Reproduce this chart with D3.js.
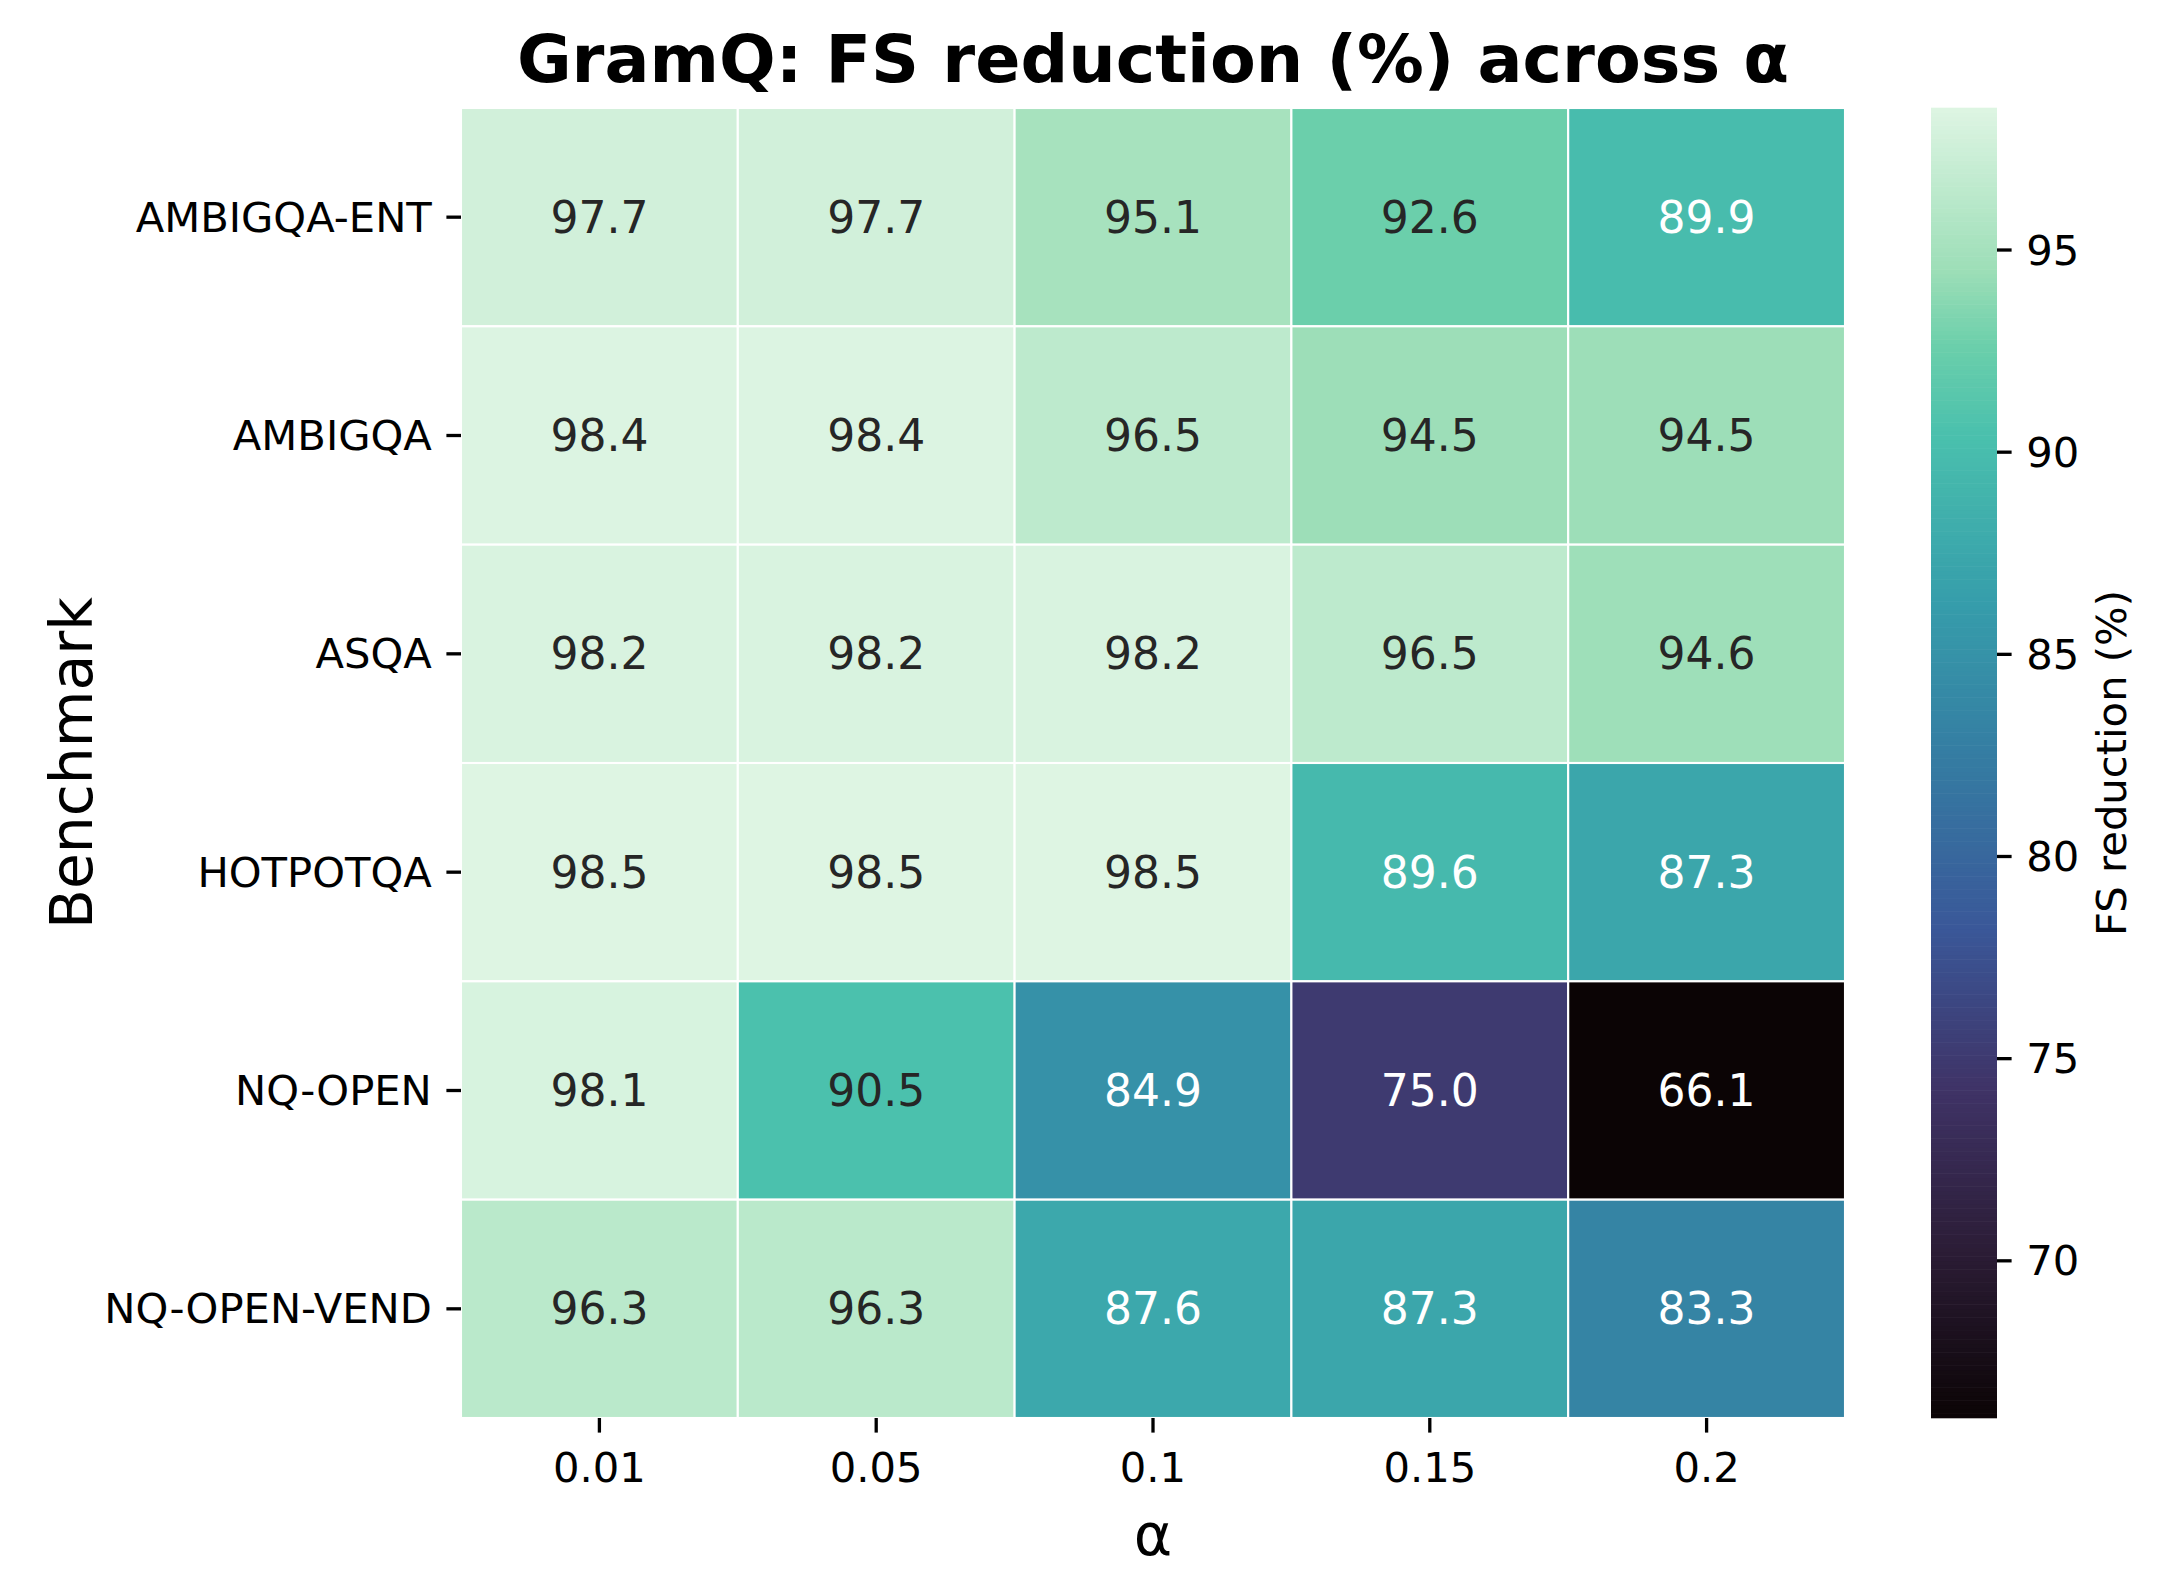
<!DOCTYPE html>
<html>
<head>
<meta charset="utf-8">
<script src="https://cdn.jsdelivr.net/npm/d3@7"></script>
<style>
  body { margin: 0; background: #fff; }
  text { font-family: "DejaVu Sans", sans-serif; }
</style>
</head>
<body>
<div id="graph"></div>
<script>
// data
let alphas = ["0.01", "0.05", "0.1", "0.15", "0.2"];
let benchmarks = ["AMBIGQA-ENT", "AMBIGQA", "ASQA", "HOTPOTQA", "NQ-OPEN", "NQ-OPEN-VEND"];

let ambigqaEnt = [97.7, 97.7, 95.1, 92.6, 89.9];
let ambigqa    = [98.4, 98.4, 96.5, 94.5, 94.5];
let asqa       = [98.2, 98.2, 98.2, 96.5, 94.6];
let hotpotqa   = [98.5, 98.5, 98.5, 89.6, 87.3];
let nqOpen     = [98.1, 90.5, 84.9, 75.0, 66.1];
let nqOpenVend = [96.3, 96.3, 87.6, 87.3, 83.3];

let colorbarTicks = [70, 75, 80, 85, 90, 95];

let rows = [ambigqaEnt, ambigqa, asqa, hotpotqa, nqOpen, nqOpenVend];

// cells as a flat list
let cells = [];
rows.forEach(function(vals, i) {
  vals.forEach(function(v, j) {
    cells.push({ bench: benchmarks[i], alpha: alphas[j], value: v });
  });
});

let vmin = d3.min(cells, d => d.value);
let vmax = d3.max(cells, d => d.value);

// approx seaborn "mako"
let makoColors = ["#0b0405", "#2b1c35", "#3f3366", "#3a5899", "#357ba2",
                  "#369eab", "#4ac0ad", "#6bcfab", "#9cdeb7", "#def5e3"];
let makoPos = [0, 0.125, 0.25, 0.375, 0.5, 0.625, 0.75, 0.818, 0.875, 1];

let couleur = d3.scaleLinear()
    .domain(makoPos.map(t => vmin + t * (vmax - vmin)))
    .range(makoColors)
    .interpolate(d3.interpolateRgb)
    .clamp(true);

// figure size and heatmap box
let largeur = 2168, hauteur = 1594;
let box = { gauche: 461, droite: 1845, haut: 108, bas: 1418 };
let cb = { gauche: 1931, droite: 1997 };

let svg = d3.select("#graph").append("svg")
    .attr("width", largeur)
    .attr("height", hauteur)
    .style("background", "#fff");

let echelleX = d3.scaleBand()
    .domain(alphas)
    .range([box.gauche, box.droite]);

let echelleY = d3.scaleBand()
    .domain(benchmarks)
    .range([box.haut, box.bas]);

// relative luminance, like seaborn picks the annotation colour
function luminance(c) {
  let rgb = d3.rgb(c);
  let lin = [rgb.r, rgb.g, rgb.b].map(function(x) {
    x = x / 255;
    return x <= 0.03928 ? x / 12.92 : Math.pow((x + 0.055) / 1.055, 2.4);
  });
  return 0.2126 * lin[0] + 0.7152 * lin[1] + 0.0722 * lin[2];
}

// cells
svg.selectAll(".cell")
  .data(cells)
  .enter()
  .append("rect")
  .attr("class", "cell")
  .attr("x", d => echelleX(d.alpha))
  .attr("y", d => echelleY(d.bench))
  .attr("width", echelleX.bandwidth())
  .attr("height", echelleY.bandwidth())
  .style("fill", d => couleur(d.value))
  .style("stroke", "#fff")
  .style("stroke-width", 2.1);

// annotations
svg.selectAll(".annot")
  .data(cells)
  .enter()
  .append("text")
  .attr("class", "annot")
  .attr("x", d => echelleX(d.alpha) + echelleX.bandwidth() / 2)
  .attr("y", d => echelleY(d.bench) + echelleY.bandwidth() / 2)
  .attr("text-anchor", "middle")
  .attr("dominant-baseline", "central")
  .style("font-size", "44px")
  .style("fill", d => luminance(couleur(d.value)) > 0.408 ? "#262626" : "#ffffff")
  .text(d => d.value.toFixed(1));

// axes
let axeX = d3.axisBottom(echelleX).tickSize(14.6).tickPadding(14.6);
let axeY = d3.axisLeft(echelleY).tickSize(14.6).tickPadding(14.6);

let gx = svg.append("g")
    .attr("transform", "translate(0," + box.bas + ")")
    .call(axeX);
let gy = svg.append("g")
    .attr("transform", "translate(" + box.gauche + ",0)")
    .call(axeY);

[gx, gy].forEach(function(g) {
  g.select(".domain").remove();
  g.selectAll(".tick line").attr("stroke", "#000").attr("stroke-width", 3.3);
  g.selectAll(".tick text")
    .attr("fill", "#000")
    .style("font-size", "41.7px")
    .style("font-family", "'DejaVu Sans', sans-serif");
});
gx.selectAll(".tick text").attr("dy", null).attr("y", 64).attr("dominant-baseline", "alphabetic");
gy.selectAll(".tick text").attr("dy", null).attr("dominant-baseline", "central");

// axis labels and title
svg.append("text")
    .attr("x", (box.gauche + box.droite) / 2)
    .attr("y", 1555)
    .attr("text-anchor", "middle")
    .style("font-size", "58.3px")
    .text("α");

svg.append("text")
    .attr("transform", "translate(92," + (box.haut + box.bas) / 2 + ") rotate(-90)")
    .attr("text-anchor", "middle")
    .style("font-size", "58.3px")
    .text("Benchmark");

svg.append("text")
    .attr("x", (box.gauche + box.droite) / 2)
    .attr("y", 82)
    .attr("text-anchor", "middle")
    .style("font-size", "66.7px")
    .style("font-weight", "bold")
    .text("GramQ: FS reduction (%) across α");

// colorbar
let echelleCb = d3.scaleLinear()
    .domain([vmin, vmax])
    .range([box.bas, box.haut]);

let nSlices = 300;
let slices = d3.range(nSlices).map(i => vmin + (i + 0.5) * (vmax - vmin) / nSlices);
let sliceH = (box.bas - box.haut) / nSlices;

svg.append("g").selectAll("rect")
  .data(slices)
  .enter()
  .append("rect")
  .attr("x", cb.gauche)
  .attr("width", cb.droite - cb.gauche)
  .attr("y", d => echelleCb(d) - sliceH / 2 - 0.3)
  .attr("height", sliceH + 0.6)
  .style("fill", d => couleur(d));

let axeCb = d3.axisRight(echelleCb)
    .tickValues(colorbarTicks)
    .tickSize(14.6)
    .tickPadding(14.6);

let gcb = svg.append("g")
    .attr("transform", "translate(" + cb.droite + ",0)")
    .call(axeCb);
gcb.select(".domain").remove();
gcb.selectAll(".tick line").attr("stroke", "#000").attr("stroke-width", 3.3);
gcb.selectAll(".tick text")
    .attr("fill", "#000")
    .attr("dy", null)
    .attr("dominant-baseline", "central")
    .style("font-size", "41.7px")
    .style("font-family", "'DejaVu Sans', sans-serif");

svg.append("text")
    .attr("transform", "translate(2126," + (box.haut + box.bas) / 2 + ") rotate(-90)")
    .attr("text-anchor", "middle")
    .style("font-size", "41.7px")
    .text("FS reduction (%)");
</script>
</body>
</html>
